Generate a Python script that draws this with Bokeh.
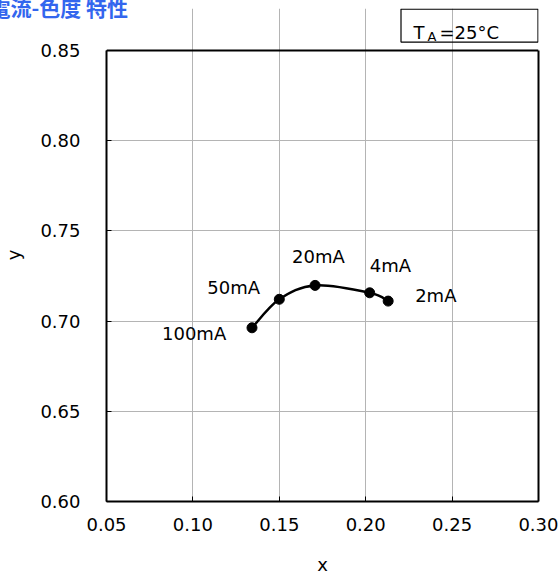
import numpy as np
from bokeh.plotting import figure
from bokeh.models import (Range1d, FixedTicker, PrintfTickFormatter, Label, BoxAnnotation,
                          ColumnDataSource, Span, LinearAxis)
from bokeh.core.properties import value
from bokeh.embed import file_html
from bokeh.resources import INLINE

# ---- data ----
currents = ["100mA", "50mA", "20mA", "4mA", "2mA"]
cie_x = [0.1342, 0.1500, 0.1707, 0.2023, 0.2130]
cie_y = [0.6963, 0.7121, 0.7198, 0.7157, 0.7111]
x_ticks = [0.05, 0.10, 0.15, 0.20, 0.25, 0.30]
y_ticks = [0.60, 0.65, 0.70, 0.75, 0.80, 0.85]
title_text = "電流-色度 特性"
temp_main = "T"
temp_sub = "A"
temp_rest = "=25°C"

# label pixel offsets relative to their points (placement only)
label_dx = [-90, -72, -23, 0, 27]
label_dy = [6, -12, -29, -27, -6]

FONT = "DejaVu Sans"
Y_TOP = 0.8733   # frame extends above the 0.85 border to hold the temperature box

p = figure(width=558, height=577,
           x_range=Range1d(x_ticks[0], x_ticks[-1]), y_range=Range1d(y_ticks[0], Y_TOP),
           output_backend="svg", toolbar_location=None,
           min_border_left=106, min_border_right=20,
           min_border_top=8, min_border_bottom=76,
           x_axis_label="x", y_axis_label="y")

p.background_fill_color = "white"
p.border_fill_color = "white"
p.outline_line_color = None

for ax, ticks in ((p.xaxis[0], x_ticks), (p.yaxis[0], y_ticks)):
    ax.ticker = FixedTicker(ticks=ticks)
    ax.formatter = PrintfTickFormatter(format="%.2f")
    ax.axis_line_color = "black"
    ax.axis_line_width = 2
    ax.major_tick_in = 5
    ax.major_tick_out = 0
    ax.major_tick_line_color = "black"
    ax.minor_tick_line_color = None
    ax.major_label_text_font = FONT
    ax.major_label_text_font_size = "18px"
    ax.major_label_text_color = "black"
    ax.axis_label_text_font = FONT
    ax.axis_label_text_font_size = "18px"
    ax.axis_label_text_font_style = "normal"
    ax.axis_label_text_color = "black"

p.yaxis[0].bounds = (y_ticks[0], y_ticks[-1])
p.yaxis[0].major_label_standoff = 26
p.yaxis[0].axis_label_standoff = 13
p.xaxis[0].major_label_standoff = 16
p.xaxis[0].axis_label_standoff = 20

# right border of the plot box
right_ax = LinearAxis(ticker=FixedTicker(ticks=[]), bounds=(y_ticks[0], y_ticks[-1]),
                      axis_line_color="black", axis_line_width=2,
                      major_tick_line_color=None, minor_tick_line_color=None)
p.add_layout(right_ax, "right")

p.grid.grid_line_color = "#b4b4b4"
p.grid.grid_line_width = 1
p.xgrid.ticker = FixedTicker(ticks=x_ticks)
p.ygrid.ticker = FixedTicker(ticks=y_ticks)
p.xgrid.bounds = (y_ticks[0], y_ticks[-1])

# top border of the plot box
p.add_layout(Span(location=y_ticks[-1], dimension="width", line_color="black", line_width=2))

# smoothed curve (Catmull-Rom -> cubic Bezier) through the data points
px = np.array(cie_x)
py = np.array(cie_y)
n = len(px)
ex = np.concatenate([[px[0]], px, [px[-1]]])
ey = np.concatenate([[py[0]], py, [py[-1]]])
cx0 = ex[1:n] + (ex[2:n + 1] - ex[0:n - 1]) / 6
cy0 = ey[1:n] + (ey[2:n + 1] - ey[0:n - 1]) / 6
cx1 = ex[2:n + 1] - (ex[3:n + 2] - ex[1:n]) / 6
cy1 = ey[2:n + 1] - (ey[3:n + 2] - ey[1:n]) / 6
p.bezier(x0=px[:-1], y0=py[:-1], x1=px[1:], y1=py[1:],
         cx0=cx0, cy0=cy0, cx1=cx1, cy1=cy1,
         line_color="black", line_width=2.5)

p.scatter(cie_x, cie_y, size=10, color="black")

src = ColumnDataSource(dict(x=cie_x, y=cie_y, label=currents, dx=label_dx, dy=label_dy))
p.text(x="x", y="y", text="label", x_offset="dx", y_offset="dy", source=src,
       text_font=value(FONT), text_font_size="18px", text_color="black",
       text_align="left", text_baseline="middle")

# temperature box
box = BoxAnnotation(left=0.22043, right=0.29971, top=0.87300, bottom=0.85471,
                    fill_color=None, line_color="black", line_alpha=1.0, line_width=1.2)
p.add_layout(box)
p.add_layout(Label(x=0.2277, y=0.8601, text=temp_main, text_font=FONT,
                   text_font_size="18px", text_color="black", text_baseline="alphabetic"))
p.add_layout(Label(x=0.2358, y=0.8578, text=temp_sub, text_font=FONT,
                   text_font_size="13px", text_color="black", text_baseline="alphabetic"))
p.add_layout(Label(x=0.2427, y=0.8601, text=temp_rest, text_font=FONT,
                   text_font_size="18px", text_color="black", text_baseline="alphabetic"))

# title, partly cut at the left edge
p.title.text = title_text
p.title.align = "left"
p.title.offset = -117
p.title.standoff = -27
p.title.vertical_align = "bottom"
p.title.text_font = "Noto Sans CJK JP"
p.title.text_font_style = "bold"
p.title.text_font_size = "21px"
p.title.text_color = "#3366ee"

open("out.html", "w").write(file_html(p, INLINE))
